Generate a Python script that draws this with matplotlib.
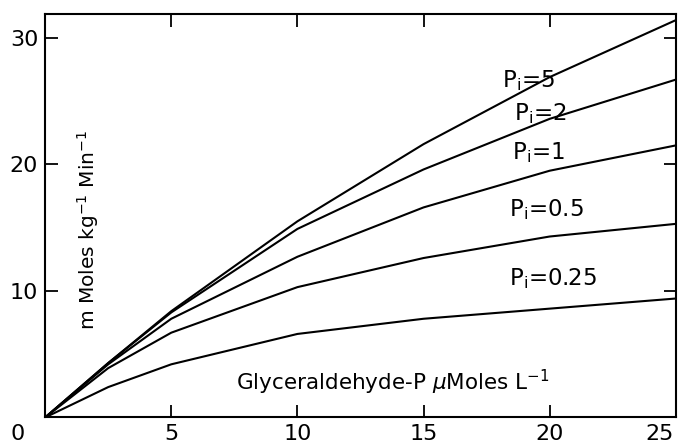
import matplotlib
matplotlib.use('Agg')
import matplotlib.pyplot as plt
import matplotlib.transforms as mtransforms

# glyceraldehyde-P concentration (umol/L)
conc = [0, 2.5, 5, 10, 15, 20, 25]

# rate curves for each Pi level
pi_5 = [0, 4.3, 8.4, 15.5, 21.6, 26.9, 31.4]
pi_2 = [0, 4.3, 8.3, 14.9, 19.6, 23.6, 26.7]
pi_1 = [0, 4.2, 7.8, 12.7, 16.6, 19.5, 21.5]
pi_05 = [0, 3.9, 6.7, 10.3, 12.6, 14.3, 15.3]
pi_025 = [0, 2.4, 4.2, 6.6, 7.8, 8.6, 9.4]

curve_labels = ['5', '2', '1', '0.5', '0.25']
xticks = [0, 5, 10, 15, 20, 25]
yticks = [10, 20, 30]

fig = plt.figure(figsize=(6.84, 4.46), dpi=100)
ax = fig.add_axes([0.066, 0.064, 0.922, 0.905])

for ys in [pi_5, pi_2, pi_1, pi_05, pi_025]:
  ax.plot(conc, ys, color='black', lw=1.5, solid_joinstyle='round')

# curve labels (placed to the right, between the lines)
label_pos = [(18.1, 26.6), (18.6, 24.0), (18.5, 20.9), (18.4, 16.4), (18.4, 11.0)]
for lab, (lx, ly) in zip(curve_labels, label_pos):
  ax.text(lx, ly, r'$\mathregular{P_i}$=' + lab, fontsize=16.5, va='center', ha='left')

ax.text(1.7, 14.8, r'm Moles kg$^{-1}$ Min$^{-1}$', rotation=90, fontsize=14.5,
        va='center', ha='center')
ax.text(13.8, 2.8, r'Glyceraldehyde-P $\mu$Moles L$^{-1}$', fontsize=15.5,
        va='center', ha='center')

ax.set_xlim(0, 25)
ax.set_ylim(0, 31.9)
ax.set_xticks(xticks)
ax.set_yticks(yticks)
ax.tick_params(direction='in', length=9, width=1.3, labelsize=16,
               top=True, right=True, pad=5)
for s in ax.spines.values():
  s.set_linewidth(1.5)

# the "0" sits at the corner, left of the y axis; "25" is pulled in from the edge
xlabels = ax.get_xticklabels()
xlabels[0].set_transform(xlabels[0].get_transform() + mtransforms.ScaledTranslation(-0.28, 0, fig.dpi_scale_trans))
xlabels[-1].set_transform(xlabels[-1].get_transform() + mtransforms.ScaledTranslation(-0.16, 0, fig.dpi_scale_trans))

fig.savefig('out.png', dpi=100)
